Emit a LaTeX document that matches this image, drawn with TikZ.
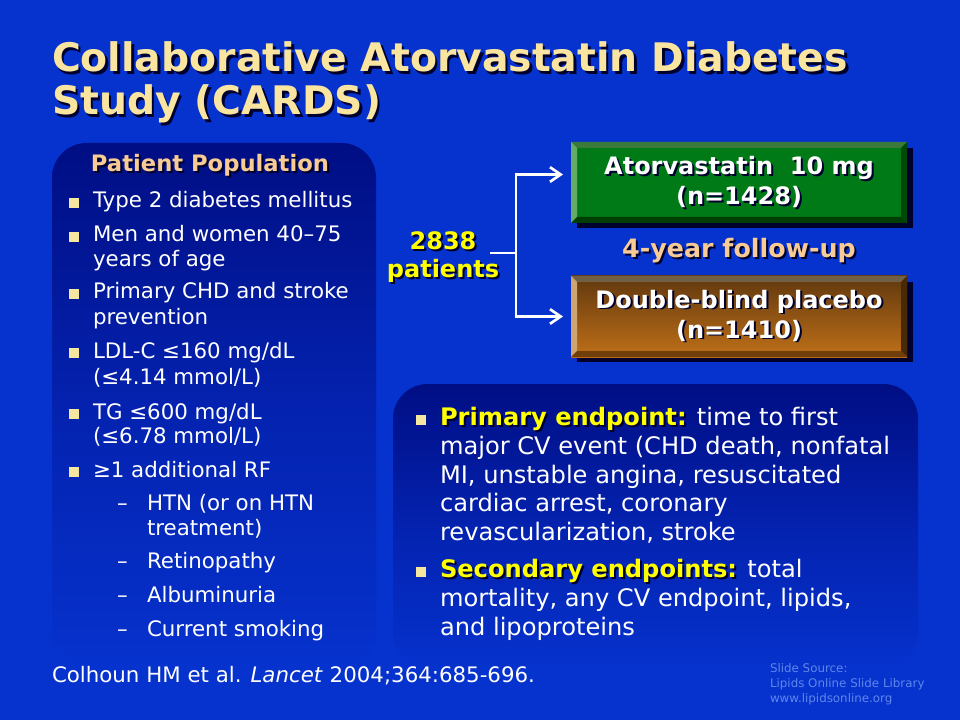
\documentclass[tikz,border=0pt]{standalone}
\usepackage{fontspec}
\setmainfont{DejaVu Sans}
\usetikzlibrary{arrows.meta,calc}
\definecolor{bg}{RGB}{6,50,205}
\definecolor{paneltop}{RGB}{0,14,132}
\definecolor{panelmid}{RGB}{4,34,175}
\definecolor{titlec}{RGB}{250,229,160}
\definecolor{peach}{RGB}{248,202,148}
\definecolor{yell}{RGB}{255,255,0}
\definecolor{bulc}{RGB}{245,230,160}
\definecolor{srcc}{RGB}{95,135,235}
\definecolor{shadowc}{RGB}{0,0,45}
\definecolor{gface}{RGB}{0,122,22}
\definecolor{gtop}{RGB}{60,122,60}
\definecolor{gleft}{RGB}{100,172,100}
\definecolor{gright}{RGB}{0,72,10}
\definecolor{gbot}{RGB}{0,62,4}
\definecolor{bfacetop}{RGB}{96,56,14}
\definecolor{bfacebot}{RGB}{192,112,24}
\definecolor{btop}{RGB}{112,96,70}
\definecolor{bleft}{RGB}{205,165,115}
\definecolor{bright}{RGB}{72,42,6}
\definecolor{bbot}{RGB}{112,62,10}
\newcommand\sh[2][1.5pt]{\leavevmode\rlap{\kern#1\raisebox{-#1}{\color{shadowc}#2}}#2}
\newcommand\bevel[5]{%
  \fill[#2] (#1.north west) -- (#1.north east) -- ($(#1.north east)+(-6,6)$) -- ($(#1.north west)+(6,6)$) -- cycle;
  \fill[#3] (#1.north west) -- ($(#1.north west)+(6,6)$) -- ($(#1.south west)+(6,-6)$) -- (#1.south west) -- cycle;
  \fill[#4] (#1.north east) -- (#1.south east) -- ($(#1.south east)+(-6,-6)$) -- ($(#1.north east)+(-6,6)$) -- cycle;
  \fill[#5] (#1.south west) -- (#1.south east) -- ($(#1.south east)+(-6,-6)$) -- ($(#1.south west)+(6,-6)$) -- cycle;}
\tikzset{
  every node/.style={inner sep=0pt, outer sep=0pt},
  ttl/.style={anchor=base west, text=titlec, font=\bfseries\fontsize{29.5}{34}\selectfont},
  ltxt/.style={anchor=base west, text=white, font=\fontsize{16}{19}\selectfont},
  rtxt/.style={anchor=base west, text=white, font=\fontsize{18.1}{21}\selectfont},
  lbul/.style={fill=bulc, minimum size=6.8pt},
  rbul/.style={fill=bulc, minimum size=7.2pt},
  head/.style={anchor=base, font=\bfseries\fontsize{18}{22}\selectfont},
  boxtxt/.style={anchor=base, text=white, font=\bfseries\fontsize{18}{22}\selectfont},
  armbox/.style={minimum width=252pt, minimum height=60.75pt},
  arr/.style={draw=white, line width=2pt, -{Straight Barb[length=8pt,width=11pt,line width=2pt]}},
  conn/.style={draw=white, line width=2pt},
  src/.style={anchor=base west, text=srcc, font=\fontsize{8.9}{10}\selectfont},
}
\begin{document}
\begin{tikzpicture}[x=0.75pt,y=-0.75pt]
\fill[bg] (0,0) rectangle (960,720);
\useasboundingbox (0,0) rectangle (960,720);
% title
\node[ttl] (t1) at (52,72) {\sh[2pt]{Collaborative Atorvastatin Diabetes}};
\node[ttl] (t2) at (52,115) {\sh[2pt]{Study (CARDS)}};
% panels
\shade[rounded corners=26, top color=paneltop, bottom color=bg, middle color=panelmid] (52,143) rectangle (376,668);
\shade[rounded corners=26, top color=paneltop, bottom color=bg, middle color=panelmid] (393,384) rectangle (918,668);
% left panel
\node[head, text=peach, font=\bfseries\fontsize{17}{20}\selectfont] (pp) at (210,172) {\sh{Patient Population}};
\foreach \n/\y in {b1/208,b2/242,b3/299,b4/358,b5/419,b6/477}{\node[lbul] (\n) at (74,\y-5) {};}
\node[ltxt] (l1) at (93,208) {Type 2 diabetes mellitus};
\node[ltxt] (l2) at (93,242) {Men and women 40–75};
\node[ltxt] (l2b) at (93,267) {years of age};
\node[ltxt] (l3) at (93,299) {Primary CHD and stroke};
\node[ltxt] (l3b) at (93,325) {prevention};
\node[ltxt] (l4) at (93,358) {LDL-C ≤160 mg/dL};
\node[ltxt] (l4b) at (93,384) {(≤4.14 mmol/L)};
\node[ltxt] (l5) at (93,419) {TG ≤600 mg/dL};
\node[ltxt] (l5b) at (93,443) {(≤6.78 mmol/L)};
\node[ltxt] (l6) at (93,477) {≥1 additional RF};
\foreach \n/\y in {d1/510,d2/568,d3/602,d4/636}{\node[ltxt] (\n) at (117,\y) {–};}
\node[ltxt] (s1) at (147,510) {HTN (or on HTN};
\node[ltxt] (s1b) at (147,535) {treatment)};
\node[ltxt] (s2) at (147,568) {Retinopathy};
\node[ltxt] (s3) at (147,602) {Albuminuria};
\node[ltxt] (s4) at (147,636) {Current smoking};
% boxes
\node[armbox] (green) at (739,182.5) {};
\fill[shadowc] ($(green.north west)+(6,6)$) rectangle ($(green.south east)+(6,5)$);
\fill[gface] (green.north west) rectangle (green.south east);
\bevel{green}{gtop}{gleft}{gright}{gbot}
\node[armbox] (brown) at (739,316.5) {};
\fill[shadowc] ($(brown.north west)+(6,6)$) rectangle ($(brown.south east)+(6,5)$);
\shade[top color=bfacetop, bottom color=bfacebot] (brown.north west) rectangle (brown.south east);
\bevel{brown}{btop}{bleft}{bright}{bbot}
\node[boxtxt] (gt1) at (739,175) {\sh{Atorvastatin\ \ 10 mg}};
\node[boxtxt] (gt2) at (739,205) {\sh{(n=1428)}};
\node[boxtxt] (bt1) at (739,308) {\sh{Double-blind placebo}};
\node[boxtxt] (bt2) at (739,338) {\sh{(n=1410)}};
\node[head, text=peach, font=\bfseries\fontsize{19}{22}\selectfont] (fu) at (739,258) {\sh{4-year follow-up}};
% patients
\node[head, text=yell] (pat) at (443,250) {\sh{2838}};
\node[head, text=yell] (pat2) at (443,278) {\sh{patients}};
\coordinate (j) at (516,253);
\draw[conn] (pat.east |- j) ++(14,0) -- (j);
\draw[arr] (j) |- ($(green.west)+(-8,-8)$);
\draw[arr] (j) |- ($(brown.west)+(-8,0)$);
% right panel
\node[rbul] (rb1) at (421,420) {};
\node[rbul] (rb2) at (421,572) {};
\node[rtxt] (r1) at (440,425) {\textbf{\color{yell}\sh{Primary endpoint:}} time to first};
\node[rtxt] (r2) at (440,454) {major CV event (CHD death, nonfatal};
\node[rtxt] (r3) at (440,483) {MI, unstable angina, resuscitated};
\node[rtxt] (r4) at (440,511) {cardiac arrest, coronary};
\node[rtxt] (r5) at (440,540) {revascularization, stroke};
\node[rtxt] (r6) at (440,577) {\textbf{\color{yell}\sh{Secondary endpoints:}} total};
\node[rtxt] (r7) at (440,606) {mortality, any CV endpoint, lipids,};
\node[rtxt] (r8) at (440,635) {and lipoproteins};
% citation
\node[ltxt] (cit) at (52,682) {Colhoun HM et al. \textit{Lancet} 2004;364:685-696.};
\node[src] (src1) at (770,672) {Slide Source:};
\node[src] (src2) at (770,687) {Lipids Online Slide Library};
\node[src] (src3) at (770,702) {www.lipidsonline.org};
\end{tikzpicture}
\end{document}
